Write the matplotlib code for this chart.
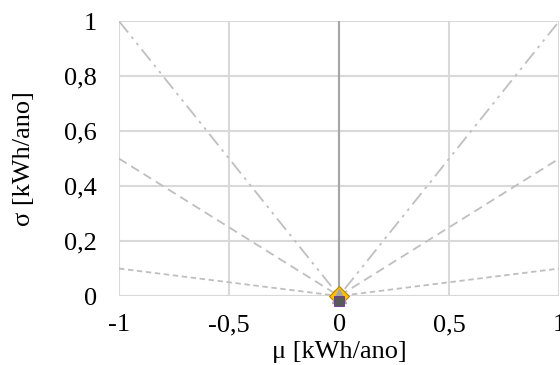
import numpy as np
import matplotlib
matplotlib.use("Agg")
import matplotlib.pyplot as plt

plt.rcParams['font.family'] = ['Liberation Serif', 'DejaVu Serif']

# limits of the sigma/mu cones
mu_pts = [-1, 0, 1]
cone_100 = [1, 0, 1]     # sigma = |mu|
cone_50 = [0.5, 0, 0.5]  # sigma = 0.5|mu|
cone_10 = [0.1, 0, 0.1]  # sigma = 0.1|mu|

# vertical reference line at mu = 0
vline_mu = [0, 0]
vline_sigma = [0, 1]

# results (all at the origin)
res_mu = [0, 0, 0]
res_sigma = [0, 0, 0]

xticks = [-1, -0.5, 0, 0.5, 1]
xtick_labels = ['-1', '-0,5', '0', '0,5', '1']
yticks = [0, 0.2, 0.4, 0.6, 0.8, 1]
ytick_labels = ['0', '0,2', '0,4', '0,6', '0,8', '1']

fig = plt.figure(figsize=(5.6, 3.65), dpi=100)
ax = fig.add_axes([0.2125, 0.189, 0.786, 0.753])

grid_c = '#D9D9D9'
line_c = '#BFBFBF'

ax.plot(mu_pts, cone_100, color=line_c, lw=1.3, dashes=(8, 3, 1.5, 3, 1.5, 3), zorder=2)
ax.plot(mu_pts, cone_50, color=line_c, lw=1.3, dashes=(5, 3), zorder=2)
ax.plot(mu_pts, cone_10, color=line_c, lw=1.3, dashes=(3, 2), zorder=2)
ax.plot(vline_mu, vline_sigma, color='#A6A6A6', lw=1.5, zorder=3)

ax.plot(res_mu[0], res_sigma[0], marker='D', ms=10, color='#FFC000', mec='#B8860B', mew=0.8, zorder=4, clip_on=False)
ax.plot(res_mu[1], res_sigma[1], marker='^', ms=10, color='#A5A5A5', mec='#A5A5A5', zorder=5, clip_on=False)
ax.plot(res_mu[2], res_sigma[2] - 0.018, marker='s', ms=7, color='#595959', mec='#7030A0', mew=0.6, zorder=6, clip_on=False)

ax.set_xlim(-1, 1)
ax.set_ylim(0, 1)
ax.set_xticks(xticks)
ax.set_xticklabels(xtick_labels)
ax.set_yticks(yticks)
ax.set_yticklabels(ytick_labels)
ax.grid(True, color=grid_c, lw=1.5, zorder=0)
ax.set_axisbelow(True)
for s in ax.spines.values():
    s.set_visible(False)
ax.axhline(0, color=grid_c, lw=1.5, zorder=1)
ax.tick_params(length=0, labelsize=19, colors='black')
ax.tick_params(axis='x', pad=13)
ax.tick_params(axis='y', pad=16)

ax.set_xlabel('μ [kWh/ano]', fontsize=19)
ax.set_ylabel('σ [kWh/ano]', fontsize=19)
ax.xaxis.set_label_coords(0.5, -0.205)
ax.yaxis.set_label_coords(-0.215, 0.5)
ax.xaxis.label.set_va('center')
ax.yaxis.label.set_va('center')

fig.savefig('out.png', dpi=100)
